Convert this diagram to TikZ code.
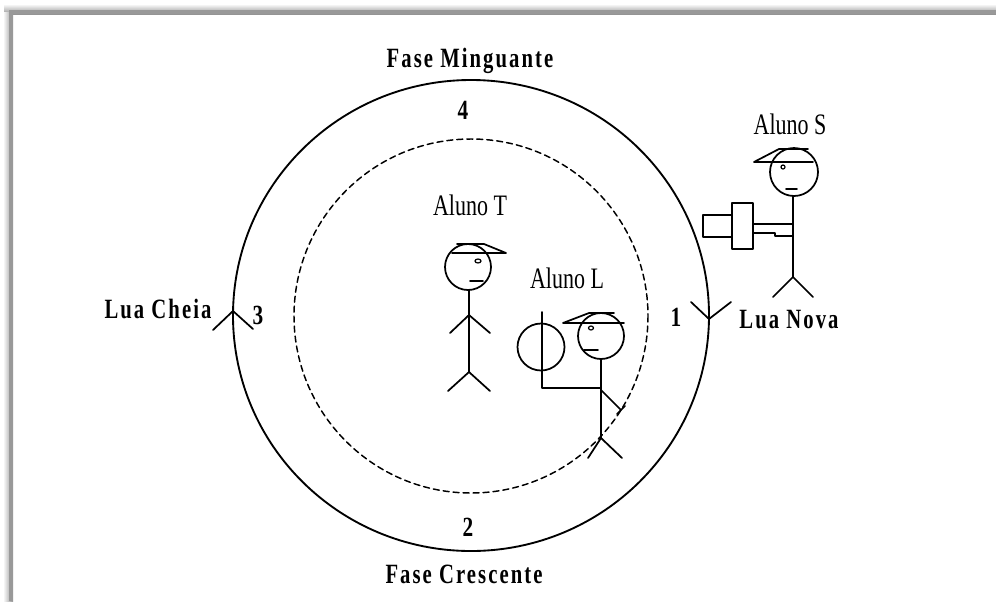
\documentclass[tikz,border=0pt]{standalone}
\usepackage{fontspec}
\setmainfont{Liberation Serif}
\newfontfamily\lblfont[LetterSpace=10.0]{Liberation Serif}
\begin{document}
\begin{tikzpicture}[x=0.75pt,y=-0.75pt,
  line cap=round, line join=round,
  ink/.style={line width=1.3pt, black},
  orbit/.style={line width=1.4pt, black},
  path/.style={line width=1.1pt, black, dash pattern=on 4.5pt off 3pt},
  phase/.style={font=\lblfont\bfseries\fontsize{15.5}{15.5}\selectfont, yscale=1.35, inner sep=0pt},
  num/.style={font=\bfseries\fontsize{16}{16}\selectfont, yscale=1.3, inner sep=0pt},
  pupil/.style={font=\fontsize{16.5}{16.5}\selectfont, yscale=1.35, inner sep=0pt}]
  % page area and shadowed frame edges
  \useasboundingbox (0,0) rectangle (996,601);
  \fill[white] (0,0) rectangle (996,601);
  \shade[top color=white, bottom color=black!42] (4,4) rectangle (996,14);
  \shade[left color=white, right color=black!42] (3,12) rectangle (13,601);
  \fill[black!40] (9,10) rectangle (996,14);
  \fill[black!40] (9,10) rectangle (13,601);

  % orbits
  \draw[orbit] (471,315.5) ellipse [x radius=238, y radius=235.5];
  \draw[path] (471,316) circle [radius=177];

  % phase markers on the orbit
  \coordinate (cheia) at (233,311);
  \coordinate (nova) at (709,319);
  \draw[ink] (213,330) -- (cheia) -- (253,329);
  \draw[ink] (691,302) -- (nova) -- (731,302);

  % labels
  \node[phase] (minguante) at (470,61) {Fase Minguante};
  \node[phase] (crescente) at (464,574) {Fase Crescente};
  \node[phase] (luacheia) at (158,309) {Lua Cheia};
  \node[phase] (luanova) at (789,320) {Lua Nova};
  \node[num] (n4) at (463,110) {4};
  \node[num] (n2) at (468,527) {2};
  \node[num] (n3) at (258,315) {3};
  \node[num] (n1) at (676,317) {1};
  \node[pupil] (alunoS) at (790,124) {Aluno S};
  \node[pupil] (alunoT) at (470,205) {Aluno T};
  \node[pupil] (alunoL) at (567,278) {Aluno L};

  % Aluno T (Earth)
  \draw[ink] (468,267) circle [radius=23];
  \draw[ink] (457,244) -- (484,244) -- (506,253) -- (452,253);
  \draw[line width=0.9pt] (478,261) ellipse [x radius=3, y radius=2];
  \draw[ink] (470,281) -- (483,281);
  \draw[ink] (469,290) -- (469,372);
  \draw[ink] (450,333) -- (469,315) -- (490,333);
  \draw[ink] (448,391) -- (469,372) -- (490,391);

  % Aluno L (Moon holder)
  \draw[ink] (601,336) circle [radius=23];
  \draw[ink] (614,313) -- (589,313) -- (563,323) -- (624,323);
  \draw[line width=0.9pt] (591,328) ellipse [x radius=2.5, y radius=2];
  \draw[ink] (584,350) -- (598,350);
  \draw[ink] (601,359) -- (601,438);
  \draw[ink] (541,347) circle [radius=23.5];
  \draw[ink] (601,388) -- (542,388) -- (542,312);
  \draw[ink] (601,390) -- (621,410);
  \draw[ink] (617,414) -- (625,406);
  \draw[ink] (588,458) -- (601,438) -- (622,458);

  % Aluno S (observer with camera)
  \draw[ink] (794,172) circle [radius=24];
  \draw[ink] (808,149) -- (779,149) -- (754,162) -- (813,162);
  \draw[line width=0.9pt] (783,167) circle [radius=2];
  \draw[ink] (786,189) -- (797,189);
  \draw[ink] (793,196) -- (793,277);
  \draw[ink] (773,297) -- (793,277) -- (813,297);
  \draw[ink] (753,224) -- (793,224);
  \draw[ink] (753,233) -- (775,233) -- (775,236) -- (793,236);
  \draw[ink] (732,203) rectangle (753,249);
  \draw[ink] (703,215) rectangle (732,237);
\end{tikzpicture}
\end{document}
